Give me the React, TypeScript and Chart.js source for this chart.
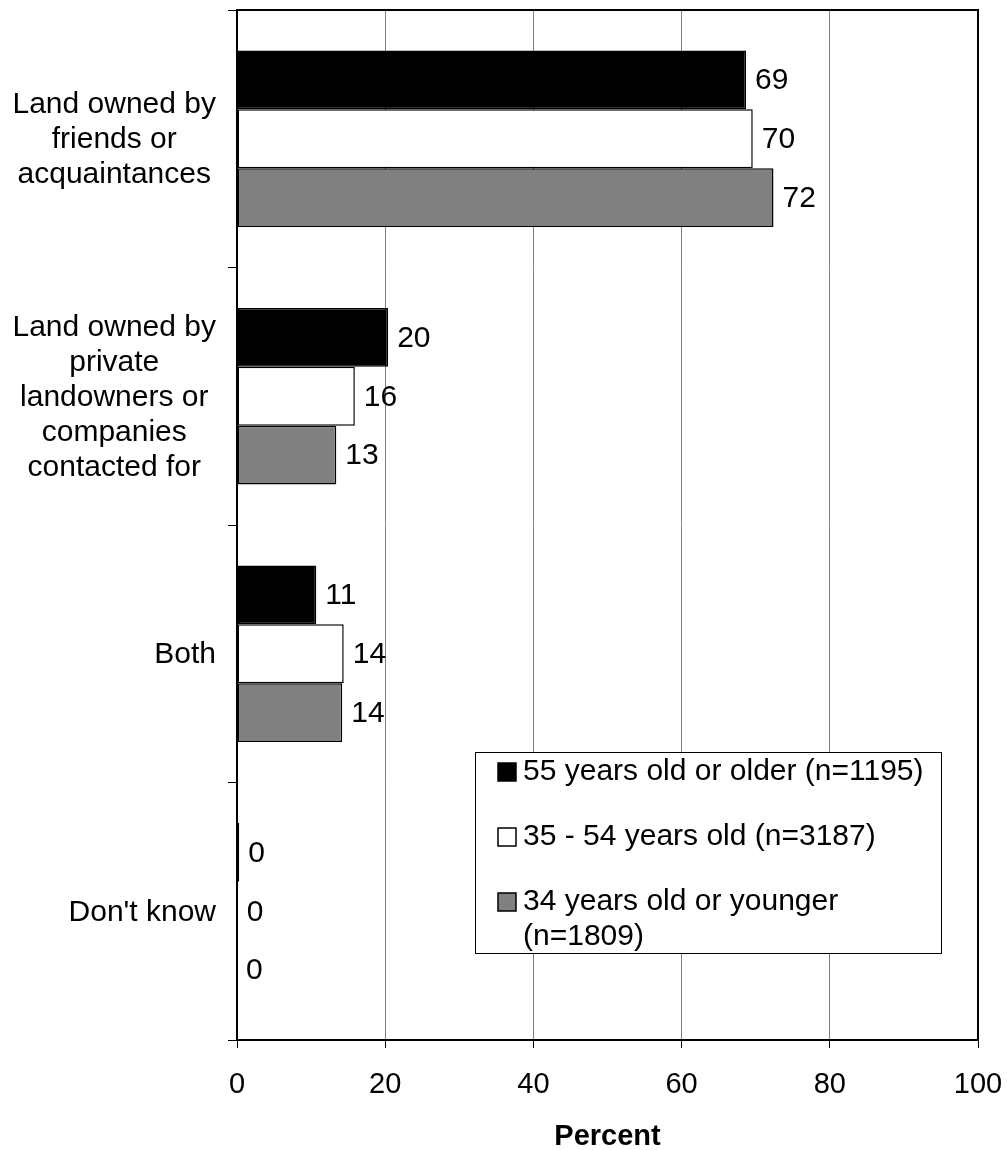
import React, { useEffect, useRef } from "react";
import { Chart, registerables } from "chart.js";

Chart.register(...registerables);

// ---- data ----
const categories: string[][] = [
  ["Land owned by", "friends or", "acquaintances"],
  ["Land owned by", "private", "landowners or", "companies", "contacted for"],
  ["Both"],
  ["Don't know"],
];
const seriesNames: string[] = [
  "55 years old or older (n=1195)",
  "35 - 54 years old (n=3187)",
  "34 years old or younger (n=1809)",
];
const olderValues: number[] = [68.7, 20.4, 10.7, 0.3];
const middleValues: number[] = [69.6, 15.9, 14.4, 0.1];
const youngerValues: number[] = [72.4, 13.4, 14.2, 0];
const xTickValues: number[] = [0, 20, 40, 60, 80, 100];
const xAxisTitle = "Percent";

// ---- styles ----
const seriesColors = ["#000000", "#ffffff", "#808080"];
const FONT = "'Liberation Sans', Arial, sans-serif";

const customDraw = {
  id: "customDraw",
  afterDraw(chart: any) {
    const { ctx, chartArea: a, scales } = chart;
    const yScale = scales.y;
    ctx.save();

    // frame top & right
    ctx.strokeStyle = "#000";
    ctx.lineWidth = 2;
    ctx.beginPath();
    ctx.moveTo(a.left, a.top);
    ctx.lineTo(a.right, a.top);
    ctx.lineTo(a.right, a.bottom);
    ctx.stroke();

    // value labels
    ctx.font = `30px ${FONT}`;
    ctx.fillStyle = "#000";
    ctx.textBaseline = "middle";
    ctx.textAlign = "left";
    chart.data.datasets.forEach((ds: any, di: number) => {
      const meta = chart.getDatasetMeta(di);
      meta.data.forEach((el: any, i: number) => {
        const v = ds.data[i] as number;
        ctx.fillText(String(Math.round(v)), el.x + 9, el.y + 1);
      });
    });

    // category labels (block right-aligned, lines centered)
    const lineH = 35;
    const rightEdge = a.left - 21;
    categories.forEach((lines, i) => {
      const cy = yScale.getPixelForValue(i);
      const maxW = Math.max(...lines.map((l) => ctx.measureText(l).width));
      const cx = rightEdge - maxW / 2;
      ctx.textAlign = "center";
      lines.forEach((l, j) => {
        ctx.fillText(l, cx, cy + 1 + (j - (lines.length - 1) / 2) * lineH);
      });
    });

    // legend
    const lx = 475, ly = 752, lw = 466, lh = 201;
    ctx.fillStyle = "#fff";
    ctx.fillRect(lx, ly, lw, lh);
    ctx.strokeStyle = "#000";
    ctx.lineWidth = 1;
    ctx.strokeRect(lx + 0.5, ly + 0.5, lw, lh);
    const textX = 523;
    const maxTextW = lx + lw - 6 - textX;
    ctx.textAlign = "left";
    ctx.textBaseline = "middle";
    seriesNames.forEach((name, i) => {
      const rowY = ly + 20 + i * 65;
      // swatch
      ctx.fillStyle = seriesColors[i];
      ctx.fillRect(498, rowY - 9, 18, 18);
      ctx.strokeStyle = "#000";
      ctx.lineWidth = 1.5;
      ctx.strokeRect(498, rowY - 9, 18, 18);
      // wrapped text
      ctx.fillStyle = "#000";
      const words = name.split(" ");
      const lines: string[] = [];
      let cur = "";
      words.forEach((w) => {
        const t = cur ? cur + " " + w : w;
        if (ctx.measureText(t).width > maxTextW && cur) {
          lines.push(cur);
          cur = w;
        } else cur = t;
      });
      if (cur) lines.push(cur);
      lines.forEach((l, j) => ctx.fillText(l, textX, rowY + j * 35));
    });

    ctx.restore();
  },
};

export default function App() {
  const ref = useRef<HTMLCanvasElement | null>(null);

  useEffect(() => {
    if (!ref.current) return;
    const datasets = [olderValues, middleValues, youngerValues].map((vals, i) => ({
      label: seriesNames[i],
      data: vals,
      backgroundColor: seriesColors[i],
      borderColor: "#000",
      borderWidth: 1.5,
      borderSkipped: false as const,
      categoryPercentage: 0.685,
      barPercentage: 1.0,
    }));
    const chart = new Chart(ref.current, {
      type: "bar",
      data: { labels: categories, datasets },
      plugins: [customDraw],
      options: {
        indexAxis: "y",
        responsive: false,
        animation: false,
        layout: { padding: { top: 10, right: 29, left: 0, bottom: 0 } },
        plugins: { legend: { display: false }, tooltip: { enabled: false } },
        scales: {
          x: {
            type: "linear",
            min: 0,
            max: 100,
            afterFit: (s: any) => {
              s.height = 110;
              s.paddingLeft = 0;
              s.paddingRight = 0;
            },
            afterBuildTicks: (s: any) => {
              s.ticks = xTickValues.map((v) => ({ value: v }));
            },
            ticks: {
              color: "#000",
              font: { family: FONT, size: 29 },
              padding: 20,
              maxRotation: 0,
            },
            grid: {
              color: "#808080",
              lineWidth: 1,
              drawTicks: true,
              tickLength: 8,
              tickColor: "#000",
            },
            border: { color: "#000", width: 2 },
            title: {
              display: true,
              text: xAxisTitle,
              color: "#000",
              font: { family: FONT, size: 29, weight: "bold" },
              padding: { top: 0, bottom: -4 },
            },
          },
          y: {
            type: "category",
            afterFit: (s: any) => {
              s.width = 237;
              s.paddingTop = 0;
              s.paddingBottom = 0;
            },
            ticks: { display: false },
            grid: {
              offset: true,
              drawOnChartArea: false,
              drawTicks: true,
              tickLength: 9,
              tickColor: "#000",
              color: "#000",
            },
            border: { color: "#000", width: 2 },
          },
        },
      },
    });
    return () => chart.destroy();
  }, []);

  return (
    <div style={{ position: "absolute", left: 0, top: 0, width: 1007, height: 1150, background: "#fff" }}>
      <canvas ref={ref} width={1007} height={1150} style={{ display: "block" }} />
    </div>
  );
}
